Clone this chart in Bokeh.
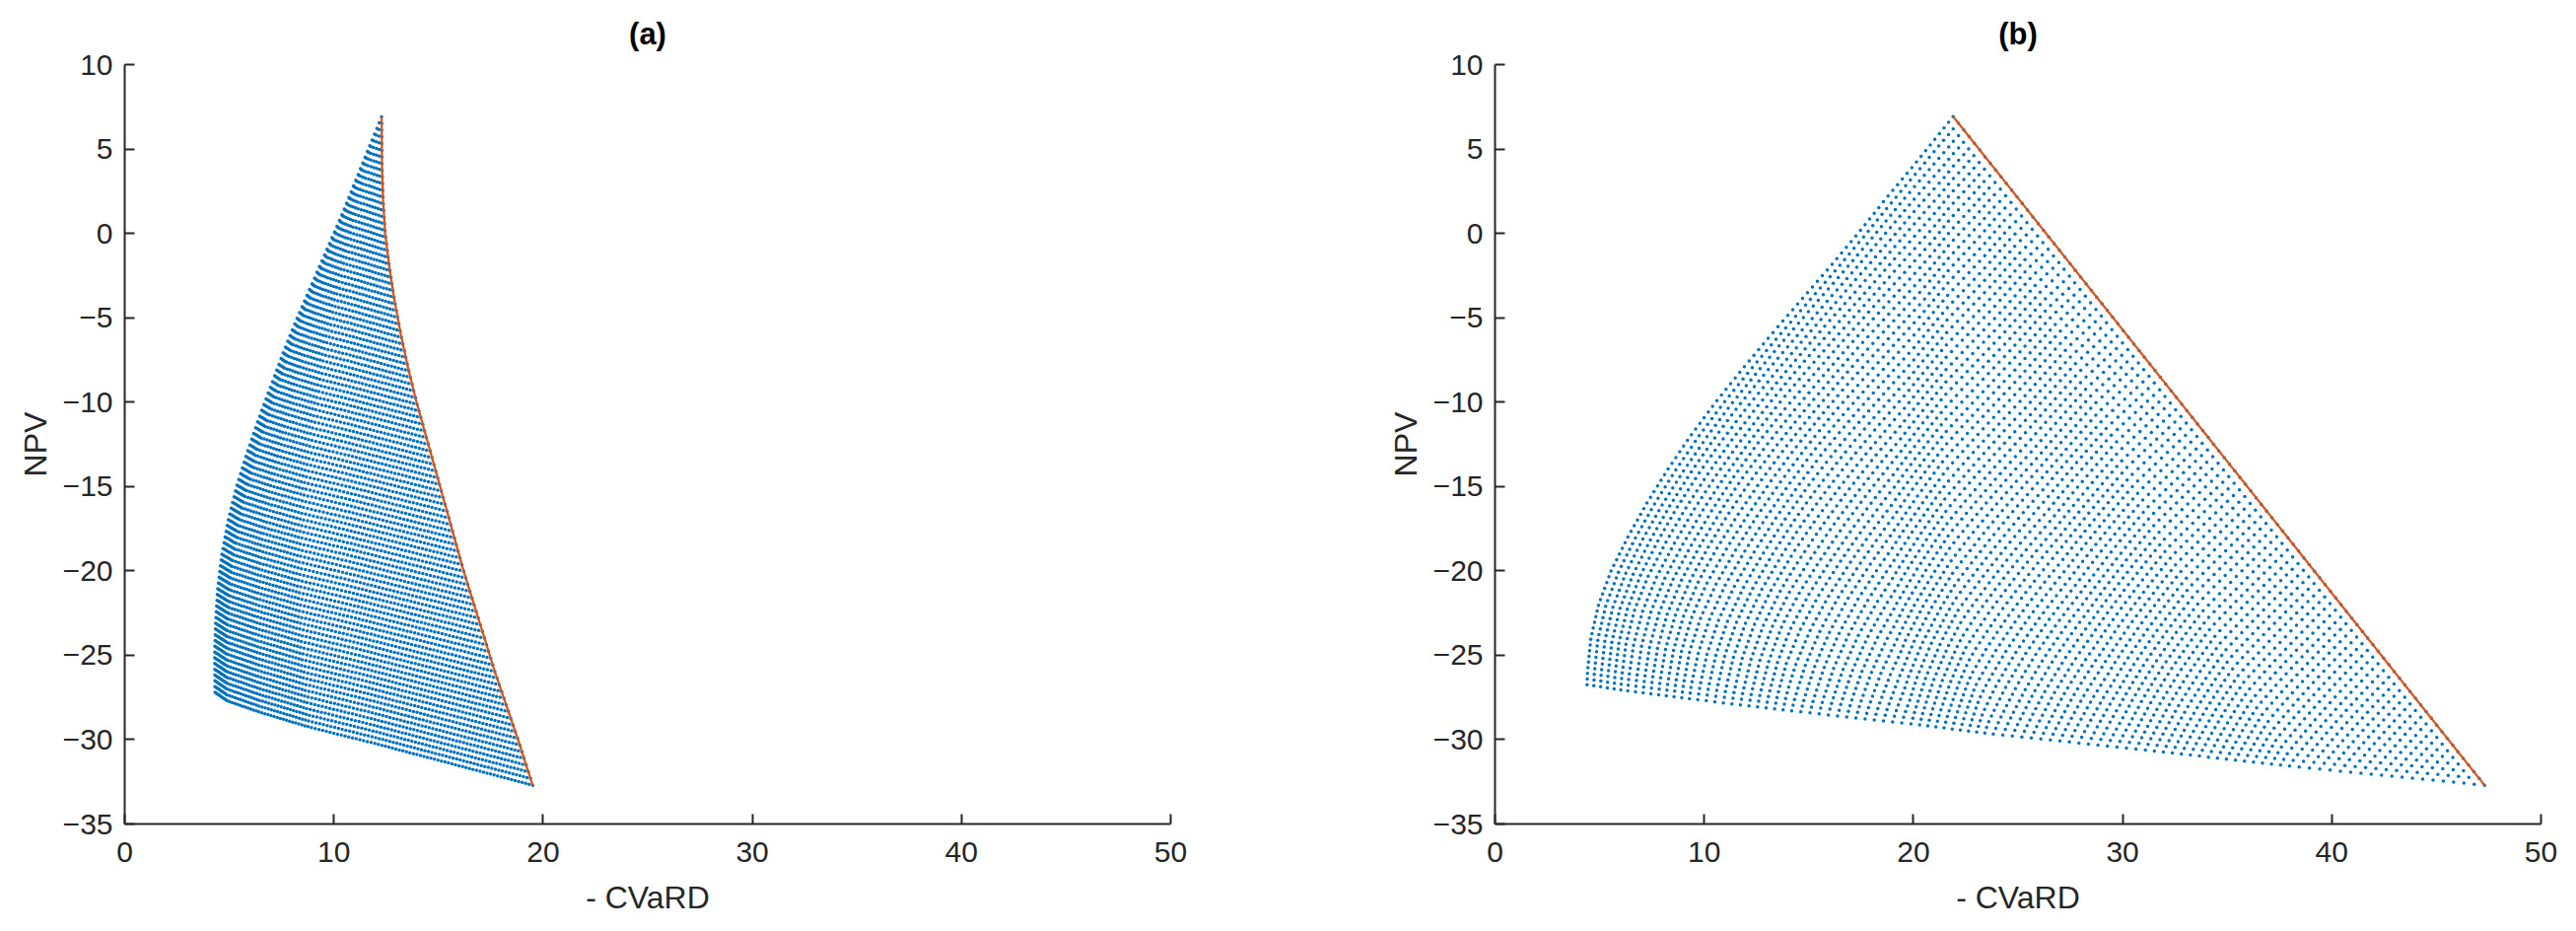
import numpy as np
from bokeh.plotting import figure
from bokeh.layouts import row
from bokeh.embed import file_html
from bokeh.resources import INLINE
from bokeh.models import FixedTicker, Range1d

# Portfolio grid: weights of three assets A, B, C on a simplex, step 1/N_STEPS
N_STEPS = 100

# ---------- panel (a) ----------
a_npv_corners = [6.9, -27.2, -32.7]          # NPV of A, B, C
# left boundary (edge A-B): NPV and -CVaRD
a_ab_y = [6.9, 5, 3, 1, -1, -3, -5, -7, -9, -11, -13, -15, -17, -19, -21, -23, -25, -27.2]
a_ab_x = [12.28, 11.65, 11.0, 10.35, 9.65, 8.95, 8.25, 7.6, 7.0, 6.4, 5.85, 5.35, 4.95, 4.65, 4.45, 4.35, 4.3, 4.32]
# red frontier (edge A-C)
a_ac_y = [6.9, 4, 2, 0, -2, -4, -6, -8, -10, -12, -14, -16, -18, -20, -22, -24, -26, -28, -30, -32.7]
a_ac_x = [12.28, 12.3, 12.35, 12.45, 12.65, 12.9, 13.2, 13.55, 13.95, 14.4, 14.85, 15.3, 15.75, 16.2, 16.7, 17.2, 17.7, 18.25, 18.8, 19.5]
# bottom boundary (edge B-C)
a_bc_y = [-27.2, -27.7, -28.38, -29.26, -30.23, -32.7]
a_bc_x = [4.32, 4.9, 6.47, 8.83, 11.97, 19.5]

# ---------- panel (b) ----------
b_npv_corners = [6.92, -26.75, -32.7]
b_ab_y = [6.92, 4, 2, 0, -2, -4, -6, -8, -10, -12, -14, -16, -18, -20, -22, -24, -26, -26.75]
b_ab_x = [21.9, 20.0, 18.65, 17.35, 16.0, 14.6, 13.2, 11.85, 10.55, 9.35, 8.25, 7.25, 6.35, 5.55, 4.95, 4.58, 4.42, 4.4]
b_ac_y = [6.92, -32.7]
b_ac_x = [21.9, 47.3]
b_bc_y = [-26.75, -27.1, -27.6, -28.3, -29.1, -29.65, -30.6, -31.6, -32.7]
b_bc_x = [4.4, 6.3, 9.4, 14.2, 20.1, 23.7, 30.96, 38.2, 47.3]

x_ticks = [0, 10, 20, 30, 40, 50]
y_ticks = [-35, -30, -25, -20, -15, -10, -5, 0, 5, 10]
titles = ["(a)", "(b)"]
x_label = "- CVaRD"
y_label = "NPV"

BLUE = "#0072BD"
RED = "#D95319"
AXC = "#262626"
FONT = "Liberation Sans"


def lattice(npv, ab_y, ab_x, ac_y, ac_x, bc_y, bc_x, n):
    NA, NB, NC = npv
    aby, abx = np.array(ab_y)[::-1], np.array(ab_x)[::-1]
    acy, acx = np.array(ac_y)[::-1], np.array(ac_x)[::-1]
    bcy, bcx = np.array(bc_y)[::-1], np.array(bc_x)[::-1]
    xB, xC = bc_x[0], bc_x[-1]
    xs, ys = [], []
    for i in range(n + 1):
        a = i / n
        yL = NB + a * (NA - NB)
        yR = NC + a * (NA - NC)
        L = np.interp(yL, aby, abx)
        R = np.interp(yR, acy, acx)
        m = n - i
        t = np.arange(m + 1) / m if m > 0 else np.array([0.0])
        yBC = NB + t * (NC - NB)
        xBC = np.interp(yBC, bcy, bcx)
        d = xB + t * (xC - xB) - xBC
        x = (1 - t) * L + t * R - (1 - a) * d
        y = a * NA + (1 - a) * yBC
        xs.append(x)
        ys.append(y)
    return np.concatenate(xs), np.concatenate(ys)


def make_fig(title, bl, br):
    p = figure(frame_width=1061, frame_height=770,
               x_range=Range1d(0, 50), y_range=Range1d(-35, 10),
               output_backend="svg", toolbar_location=None,
               min_border_left=bl, min_border_right=br,
               min_border_top=65, min_border_bottom=100, title=title)
    p.outline_line_color = None
    p.grid.visible = False
    p.background_fill_color = "white"
    p.title.align = "center"
    p.title.text_font = FONT
    p.title.text_font_size = "31px"
    p.title.text_font_style = "bold"
    p.title.text_color = "black"
    p.title.standoff = 28
    p.xaxis.ticker = FixedTicker(ticks=x_ticks)
    p.yaxis.ticker = FixedTicker(ticks=y_ticks)
    p.xaxis.axis_label = x_label
    p.yaxis.axis_label = y_label
    for ax in (p.xaxis[0], p.yaxis[0]):
        ax.axis_line_width = 2
        ax.axis_line_color = AXC
        ax.major_tick_in = 10
        ax.major_tick_out = 0
        ax.major_tick_line_width = 2
        ax.major_tick_line_color = AXC
        ax.minor_tick_line_color = None
        ax.major_label_text_font = FONT
        ax.major_label_text_font_size = "30px"
        ax.major_label_text_color = AXC
        ax.axis_label_text_font = FONT
        ax.axis_label_text_font_size = "32px"
        ax.axis_label_text_font_style = "normal"
        ax.axis_label_text_color = AXC
    p.xaxis.major_label_standoff = 18
    p.yaxis.major_label_standoff = 12
    p.xaxis.axis_label_standoff = 15
    p.yaxis.axis_label_standoff = 7
    return p


pa = make_fig(titles[0], 126, 20)
xa, ya = lattice(a_npv_corners, a_ab_y, a_ab_x, a_ac_y, a_ac_x, a_bc_y, a_bc_x, N_STEPS)
pa.scatter(xa, ya, size=3.5, marker="circle", fill_color=BLUE, line_color=None)
pa.line(a_ac_x, a_ac_y, line_color=RED, line_width=2.2)

pb = make_fig(titles[1], 309, 20)
xb, yb = lattice(b_npv_corners, b_ab_y, b_ab_x, b_ac_y, b_ac_x, b_bc_y, b_bc_x, N_STEPS)
pb.scatter(xb, yb, size=3.5, marker="circle", fill_color=BLUE, line_color=None)
pb.line(b_ac_x, b_ac_y, line_color=RED, line_width=2.2)

layout = row(pa, pb)
open("out.html", "w").write(file_html(layout, INLINE))
